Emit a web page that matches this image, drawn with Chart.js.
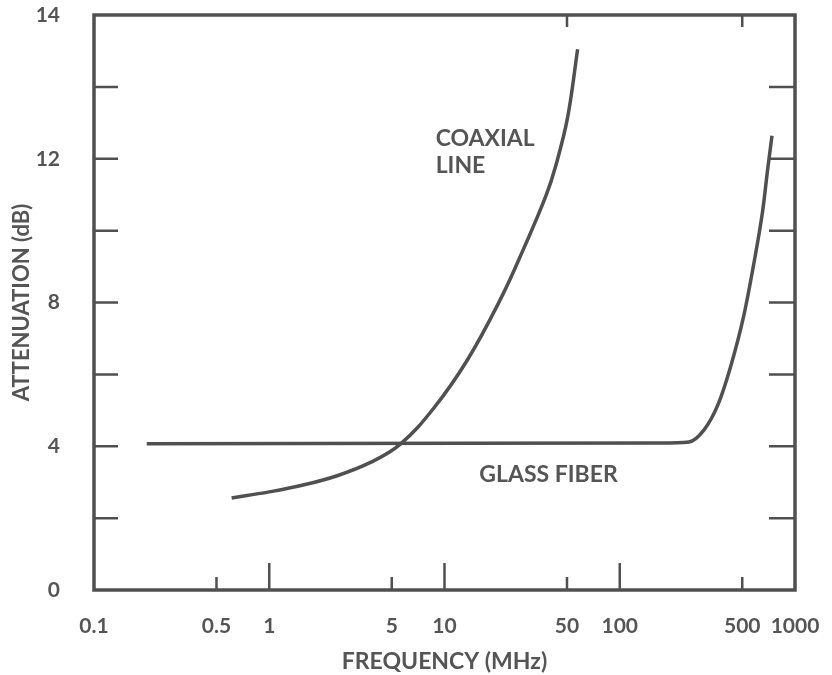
<!DOCTYPE html>
<html>
<head>
<meta charset="utf-8">
<script src="https://cdn.jsdelivr.net/npm/chart.js@4/dist/chart.umd.min.js"></script>
<style>
    body { margin: 0; background: #fff; }
    #wrap { width: 832px; height: 675px; }
</style>
</head>
<body>
<div id="wrap"><canvas id="chart" width="832" height="675"></canvas></div>
<script>
// coaxial line
var coaxFreq = [0.61, 1.0, 1.56, 2.44, 3.78, 5.6, 8.65, 13.5, 20.9, 28.3, 37.8, 43.1, 50.4, 57.5]
var coaxAtten = [2.56, 2.73, 2.92, 3.18, 3.55, 4.06, 5.05, 6.4, 8.1, 9.5, 10.95, 11.8, 13.15, 15.05]

// glass fiber
var fiberFreq = [0.2, 171, 248, 302, 363, 431, 511, 583, 654, 698, 739]
var fiberAtten = [4.07, 4.09, 4.12, 4.45, 5.15, 6.25, 7.65, 9.1, 10.55, 11.7, 12.64]

// tick values and labels
var xTicks = [0.1, 0.5, 1, 5, 10, 50, 100, 500, 1000]
var xLongTicks = [1, 10, 100]
var xShortTicks = [0.5, 5, 50, 500]
var xTopTicks = [50, 500]
var yTicks = [0, 4, 8, 12, 16]
var yTickLabels = ['0', '4', '8', '12', '14']
var yMinorTicks = [2, 4, 6, 8, 10, 12, 14]

var ink = '#505050'
var textColor = '#555'
var font = 'Lato, "Open Sans", sans-serif'

function pts(xs, ys) {
    return xs.map(function(x, i) { return { x: x, y: ys[i] } })
}

var frame = {
    id: 'frame',
    afterDatasetsDraw(chart) {
        var { ctx, chartArea: a, scales } = chart
        var sx = scales.x, sy = scales.y
        ctx.save()
        ctx.strokeStyle = ink
        ctx.lineWidth = 2.5
        ctx.beginPath()
        yMinorTicks.forEach(function(v) {
            var y = sy.getPixelForValue(v)
            ctx.moveTo(a.left, y); ctx.lineTo(a.left + 24, y)
            ctx.moveTo(a.right, y); ctx.lineTo(a.right - 26, y)
        })
        xLongTicks.forEach(function(v) {
            var x = sx.getPixelForValue(v)
            ctx.moveTo(x, a.bottom); ctx.lineTo(x, a.bottom - 27)
        })
        xShortTicks.forEach(function(v) {
            var x = sx.getPixelForValue(v)
            ctx.moveTo(x, a.bottom); ctx.lineTo(x, a.bottom - 13)
        })
        xTopTicks.forEach(function(v) {
            var x = sx.getPixelForValue(v)
            ctx.moveTo(x, a.top); ctx.lineTo(x, a.top + 12)
        })
        ctx.stroke()
        ctx.lineWidth = 3.5
        ctx.strokeRect(a.left, a.top, a.right - a.left, a.bottom - a.top)

        // curve labels
        ctx.fillStyle = textColor
        ctx.font = 'bold 23px ' + font
        ctx.textBaseline = 'middle'
        ctx.textAlign = 'left'
        ctx.fillText('COAXIAL', sx.getPixelForValue(8.9), sy.getPixelForValue(12.55))
        ctx.fillText('LINE', sx.getPixelForValue(8.9), sy.getPixelForValue(11.8))
        ctx.fillText('GLASS FIBER', sx.getPixelForValue(15.8), sy.getPixelForValue(3.22))
        ctx.restore()
    }
}

var el = document.getElementById('chart')
var chart = new Chart(el, {
    type: 'scatter',
    data: {
        datasets: [
            {
                label: 'Coaxial line',
                data: pts(coaxFreq, coaxAtten),
                showLine: true,
                borderColor: ink,
                borderWidth: 3.5,
                pointRadius: 0,
                tension: 0.4
            },
            {
                label: 'Glass fiber',
                data: pts(fiberFreq, fiberAtten),
                showLine: true,
                borderColor: ink,
                borderWidth: 3.5,
                pointRadius: 0,
                cubicInterpolationMode: 'monotone'
            }
        ]
    },
    options: {
        responsive: false,
        animation: false,
        layout: { padding: { top: 15, right: 37, left: 0, bottom: 0 } },
        plugins: {
            legend: { display: false },
            tooltip: { enabled: false }
        },
        scales: {
            x: {
                type: 'logarithmic',
                min: 0.1,
                max: 1000,
                grid: { display: false },
                border: { display: false },
                afterBuildTicks(scale) {
                    scale.ticks = xTicks.map(function(v) { return { value: v } })
                },
                afterFit(scale) {
                    scale.height = 85
                    scale.paddingLeft = 0
                    scale.paddingRight = 0
                },
                ticks: {
                    autoSkip: false,
                    maxRotation: 0,
                    padding: 16,
                    color: textColor,
                    font: { family: font, size: 21, weight: 'bold' },
                    callback(v) { return String(v) }
                },
                title: {
                    display: true,
                    text: 'FREQUENCY (MHz)',
                    color: textColor,
                    font: { family: font, size: 23, weight: 'bold' },
                    padding: { top: 0, bottom: 0 }
                }
            },
            y: {
                min: 0,
                max: 16,
                grid: { display: false },
                border: { display: false },
                afterBuildTicks(scale) {
                    scale.ticks = yTicks.map(function(v) { return { value: v } })
                },
                afterFit(scale) {
                    scale.width = 94
                    scale.paddingTop = 0
                    scale.paddingBottom = 0
                },
                ticks: {
                    padding: 26,
                    color: textColor,
                    font: { family: font, size: 21, weight: 'bold' },
                    callback(v) {
                        var i = yTicks.indexOf(v)
                        return i < 0 ? '' : yTickLabels[i]
                    }
                },
                title: {
                    display: true,
                    text: 'ATTENUATION (dB)',
                    color: textColor,
                    font: { family: font, size: 22, weight: 'bold' },
                    padding: { top: 9, bottom: 0 }
                }
            }
        }
    },
    plugins: [frame]
})
</script>
</body>
</html>
